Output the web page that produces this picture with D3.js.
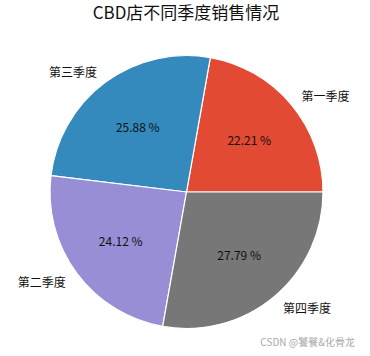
<!DOCTYPE html>
<html>
<head>
<meta charset="utf-8">
<script src="https://cdn.jsdelivr.net/npm/d3@7"></script>
<style>
  body { margin: 0; background: #fff; }
  text { font-family: "Noto Sans CJK SC", "DejaVu Sans", sans-serif; }
</style>
</head>
<body>
<svg id="chart"></svg>
<script>
const width = 370;
const height = 356;

// data, in drawing order (counter-clockwise from 3 o'clock)
const quarters = ["第一季度", "第三季度", "第二季度", "第四季度"];
const shares = [22.21, 25.88, 24.12, 27.79];
const colors = ["#E24A33", "#348ABD", "#988ED5", "#777777"];

const cx = 186.5, cy = 192, radius = 136.5;

const svg = d3.select("#chart")
  .attr("width", width)
  .attr("height", height);

svg.append("text")
  .attr("x", 186)
  .attr("y", 19)
  .attr("text-anchor", "middle")
  .style("font-size", "17px")
  .style("fill", "#111")
  .text("CBD店不同季度销售情况");

const data = quarters.map((q, i) => ({ name: q, value: shares[i], color: colors[i] }));

// matplotlib style: start at 3 o'clock, go counter-clockwise
const pie = d3.pie()
  .sort(null)
  .value(d => d.value)
  .startAngle(Math.PI / 2)
  .endAngle(Math.PI / 2 - 2 * Math.PI);

const arcs = pie(data);
const arc = d3.arc().innerRadius(0).outerRadius(radius);

const g = svg.append("g").attr("transform", `translate(${cx},${cy})`);

g.selectAll("path.slice")
  .data(arcs)
  .enter()
  .append("path")
  .attr("class", "slice")
  .attr("d", arc)
  .style("fill", d => d.data.color)
  .style("stroke", "#fff")
  .style("stroke-width", 1.2)
  .style("stroke-linejoin", "round");

// position helper: d3 angle -> x,y
function pos(a, r) {
  return [Math.sin(a) * r, -Math.cos(a) * r];
}

// percentage labels at 0.6 r
g.selectAll("text.pct")
  .data(arcs)
  .enter()
  .append("text")
  .attr("class", "pct")
  .attr("x", d => pos((d.startAngle + d.endAngle) / 2, radius * 0.6)[0])
  .attr("y", d => pos((d.startAngle + d.endAngle) / 2, radius * 0.6)[1])
  .attr("text-anchor", "middle")
  .attr("dominant-baseline", "central")
  .style("font-size", "12px")
  .style("fill", "#111")
  .text(d => d.data.value.toFixed(2) + " %");

// category labels at 1.1 r
g.selectAll("text.lbl")
  .data(arcs)
  .enter()
  .append("text")
  .attr("class", "lbl")
  .attr("x", d => pos((d.startAngle + d.endAngle) / 2, radius * 1.1)[0])
  .attr("y", d => pos((d.startAngle + d.endAngle) / 2, radius * 1.1)[1])
  .attr("text-anchor", d => pos((d.startAngle + d.endAngle) / 2, 1)[0] > 0 ? "start" : "end")
  .attr("dominant-baseline", "central")
  .style("font-size", "12px")
  .style("fill", "#111")
  .text(d => d.data.name);

// watermark
svg.append("text")
  .attr("x", 355)
  .attr("y", 346)
  .attr("text-anchor", "end")
  .style("font-size", "10px")
  .style("fill", "#aaa")
  .text("CSDN @饕餮&化骨龙");
</script>
</body>
</html>
